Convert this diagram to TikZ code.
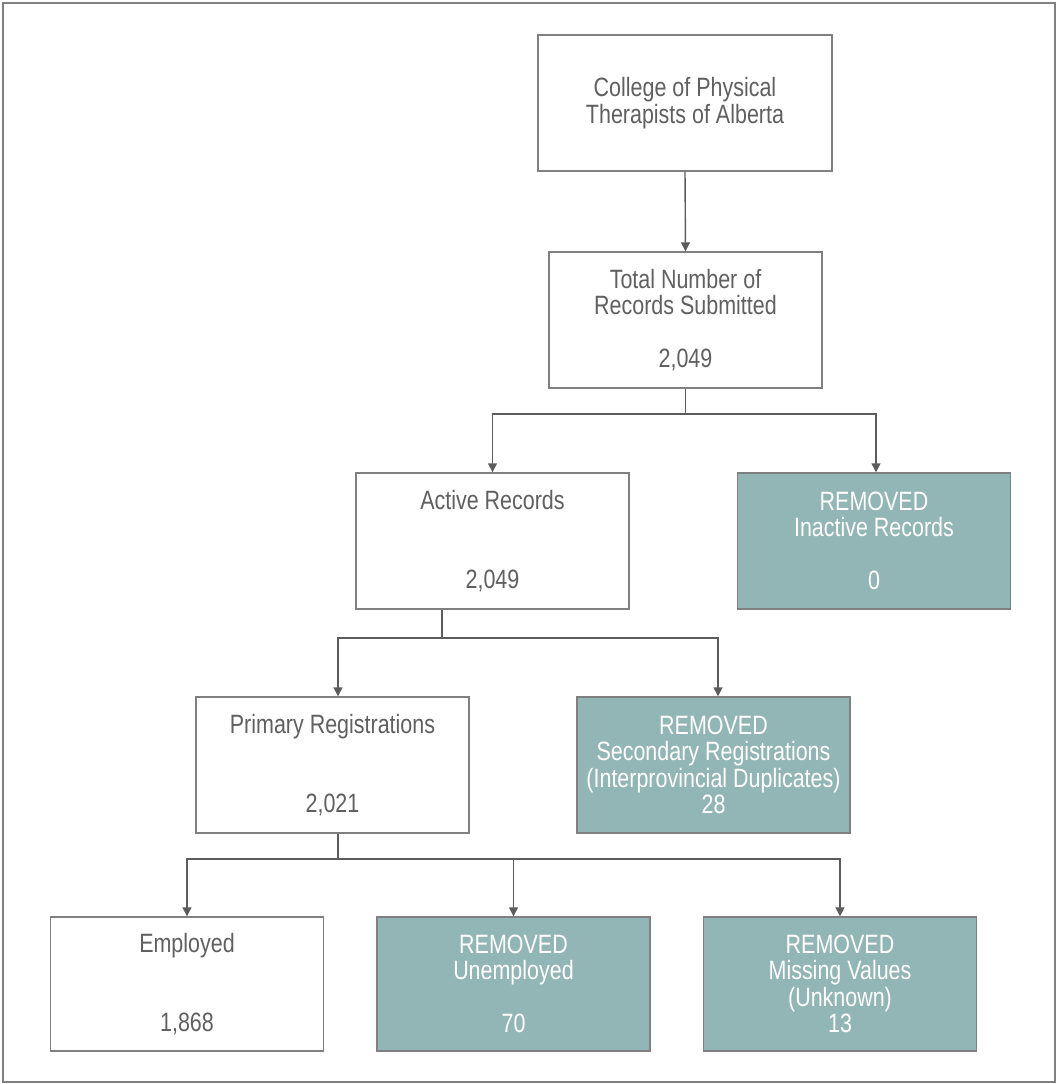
\documentclass[tikz,border=0pt]{standalone}
\usepackage{fontspec}
\setmainfont[FakeStretch=0.81]{Liberation Sans}
\usetikzlibrary{arrows.meta}
\definecolor{textgray}{RGB}{96,96,96}
\definecolor{linegray}{RGB}{128,128,128}
\definecolor{arrowgray}{RGB}{92,92,92}
\definecolor{removedfill}{RGB}{146,182,181}

\begin{document}
\begin{tikzpicture}[x=1pt,y=-1pt,
    font=\fontsize{26.5}{26.5}\selectfont,
    record/.style={draw=linegray,line width=1.4pt,fill=white,text=textgray,
      align=center,inner sep=0pt,minimum width=273pt,minimum height=136pt},
    removed/.style={record,fill=removedfill,text=white},
    link/.style={draw=arrowgray,line width=1.4pt},
    arr/.style={link,-{Triangle[length=9pt,width=9pt]}}]
      \useasboundingbox (0,0) rectangle (1057,1084);
      \draw[linegray,line width=1.4pt] (3,3) rectangle (1055,1082);
      %
      \node[record,minimum width=294pt] (college) at (685,103) {College of Physical\\Therapists of Alberta};
      \node[record] (total) at (685.5,320) {Total Number of\\Records Submitted\\ \mbox{}\\2,049};
      \node[record] (active) at (492.5,541) {Active Records\\ \mbox{}\\ \mbox{}\\2,049};
      \node[removed] (inactive) at (874,541) {REMOVED\\Inactive Records\\ \mbox{}\\0};
      \node[record] (primary) at (332.5,765) {Primary Registrations\\ \mbox{}\\ \mbox{}\\2,021};
      \node[removed] (secondary) at (713.5,765) {REMOVED\\Secondary Registrations\\(Interprovincial Duplicates)\\28};
      \node[record,minimum height=134pt] (employed) at (187,984) {Employed\\ \mbox{}\\ \mbox{}\\1,868};
      \node[removed,minimum height=134pt] (unemployed) at (513.5,984) {REMOVED\\Unemployed\\ \mbox{}\\70};
      \node[removed,minimum height=134pt] (missing) at (840,984) {REMOVED\\Missing Values\\(Unknown)\\13};
      %
      \coordinate (busA) at (685.5,414);
      \coordinate (busB) at (442,638);
      \coordinate (busC) at (338,859);
      %
      \draw[arr] (college.south) -- (total.north);
      \draw[link] (total.south) -- (busA);
      \draw[arr] (busA) -| (active.north);
      \draw[arr] (busA) -| ([xshift=2pt]inactive.north);
      \draw[link] (active.south -| busB) -- (busB);
      \draw[arr] (busB) -| ([xshift=5.5pt]primary.north);
      \draw[arr] (busB) -| ([xshift=4.5pt]secondary.north);
      \draw[link] (primary.south -| busC) -- (busC);
      \draw[arr] (busC) -| (employed.north);
      \draw[arr] (busC) -| (unemployed.north);
      \draw[arr] (busC) -| (missing.north);
    \end{tikzpicture}
\end{document}
